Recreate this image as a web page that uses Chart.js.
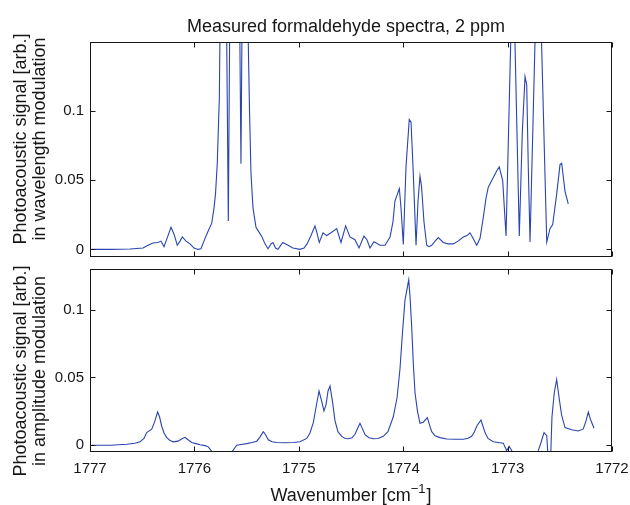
<!DOCTYPE html>
<html><head><meta charset="utf-8">
<script src="https://cdn.jsdelivr.net/npm/chart.js@4/dist/chart.umd.min.js"></script>
<style>
html,body{margin:0;padding:0;background:#fff;}
#wrap{position:relative;width:630px;height:505px;}
#wrap canvas{position:absolute;left:0;top:0;}
</style></head><body>
<div id="wrap"><canvas id="cTop" width="630" height="505"></canvas><canvas id="cBot" width="630" height="505"></canvas></div>
<script>
const chartTitle = 'Measured formaldehyde spectra, 2 ppm';
const xAxisTitle = ['Wavenumber [cm', '\u22121', ']'];
const topYTitle = ['Photoacoustic signal [arb.]', 'in wavelength modulation'];
const botYTitle = ['Photoacoustic signal [arb.]', 'in amplitude modulation'];
const wavenumberTicks = [1777, 1776, 1775, 1774, 1773, 1772];
const signalTicks = [0, 0.05, 0.1];

// wavelength modulation (top panel)
const wmWavenumber = [
  1776.984, 1776.808, 1776.617, 1776.492, 1776.444, 1776.397, 1776.349, 1776.320, 1776.291, 1776.262,
  1776.224, 1776.195, 1776.164, 1776.138, 1776.116, 1776.080, 1776.042, 1776.004, 1775.966, 1775.937,
  1775.898, 1775.870, 1775.834, 1775.812, 1775.798, 1775.781, 1775.761, 1775.736, 1775.702, 1775.675,
  1775.649, 1775.611, 1775.582, 1775.554, 1775.530, 1775.506, 1775.484, 1775.472, 1775.458, 1775.439,
  1775.410, 1775.381, 1775.352, 1775.324, 1775.295, 1775.266, 1775.247, 1775.223, 1775.199, 1775.154,
  1775.103, 1775.056, 1774.989, 1774.950, 1774.921, 1774.883, 1774.845, 1774.826, 1774.804, 1774.768,
  1774.733, 1774.692, 1774.637, 1774.596, 1774.551, 1774.510, 1774.462, 1774.423, 1774.376, 1774.347,
  1774.318, 1774.280, 1774.222, 1774.174, 1774.126, 1774.098, 1774.079, 1774.037, 1774.021, 1773.999,
  1773.973, 1773.942, 1773.925, 1773.906, 1773.877, 1773.858, 1773.839, 1773.825, 1773.801, 1773.775,
  1773.753, 1773.727, 1773.695, 1773.664, 1773.616, 1773.571, 1773.520, 1773.475, 1773.424, 1773.389,
  1773.360, 1773.331, 1773.296, 1773.264, 1773.233, 1773.207, 1773.185, 1773.137, 1773.102, 1773.080,
  1773.047, 1773.015, 1772.949, 1772.888, 1772.859, 1772.833, 1772.817, 1772.802, 1772.785, 1772.707,
  1772.625, 1772.594, 1772.568, 1772.530, 1772.498, 1772.482, 1772.450, 1772.419
];
const wmSignal = [
  0, 0, 0.0003, 0.001, 0.003, 0.0046, 0.005, 0.006, 0.002, 0.008,
  0.016, 0.011, 0.003, 0.006, 0.009, 0.006, 0.004, 0.001, 0, 0.0005,
  0.008, 0.013, 0.019, 0.03, 0.04, 0.062, 0.11, 0.3, 0.25, 0.0205,
  0.3, 0.35, 0.3, 0.062, 0.3, 0.26, 0.15, 0.1, 0.055, 0.03,
  0.016, 0.0125, 0.009, 0.004, 0.0005, 0.004, 0.005, 0.001, 0, 0.005,
  0.003, 0.001, 0, 0.001, 0.004, 0.01, 0.017, 0.012, 0.005, 0.012,
  0.01, 0.012, 0.015, 0.005, 0.017, 0.009, 0.007, 0.001, 0.0096, 0.007,
  0.001, 0.0055, 0.003, 0.003, 0.009, 0.02, 0.035, 0.044, 0.03, 0.0036,
  0.06, 0.094, 0.092, 0.06, 0.003, 0.035, 0.053, 0.046, 0.02, 0.003,
  0.002, 0.003, 0.006, 0.0085, 0.005, 0.004, 0.004, 0.006, 0.009, 0.01,
  0.012, 0.008, 0.003, 0.008, 0.023, 0.037, 0.045, 0.052, 0.057, 0.0597,
  0.0497, 0.0097, 0.216, 0.0097, 0.085, 0.125, 0.119, 0.06, 0.0053, 0.243,
  0.0053, 0.015, 0.018, 0.04, 0.0613, 0.0623, 0.042, 0.033
];

// amplitude modulation (bottom panel)
const amWavenumber = [
  1776.984, 1776.808, 1776.648, 1776.569, 1776.521, 1776.483, 1776.457, 1776.409, 1776.382, 1776.352,
  1776.334, 1776.313, 1776.291, 1776.265, 1776.234, 1776.202, 1776.157, 1776.119, 1776.090, 1776.061,
  1776.026, 1775.985, 1775.946, 1775.898, 1775.867, 1775.819, 1775.755, 1775.697, 1775.669, 1775.595,
  1775.554, 1775.499, 1775.448, 1775.403, 1775.372, 1775.340, 1775.324, 1775.292, 1775.257, 1775.212,
  1775.132, 1775.053, 1774.989, 1774.924, 1774.893, 1774.861, 1774.835, 1774.806, 1774.783, 1774.759,
  1774.739, 1774.720, 1774.701, 1774.677, 1774.653, 1774.625, 1774.589, 1774.557, 1774.526, 1774.490,
  1774.462, 1774.433, 1774.414, 1774.395, 1774.366, 1774.328, 1774.286, 1774.241, 1774.191, 1774.146,
  1774.095, 1774.059, 1774.031, 1774.007, 1773.983, 1773.947, 1773.935, 1773.919, 1773.903, 1773.887,
  1773.863, 1773.839, 1773.808, 1773.769, 1773.748, 1773.727, 1773.695, 1773.648, 1773.583, 1773.504,
  1773.424, 1773.379, 1773.344, 1773.317, 1773.296, 1773.255, 1773.236, 1773.216, 1773.188, 1773.137,
  1773.092, 1773.041, 1773.009, 1772.984, 1772.945, 1772.881, 1772.785, 1772.737, 1772.706, 1772.680,
  1772.651, 1772.625, 1772.610, 1772.589, 1772.575, 1772.553, 1772.530, 1772.505, 1772.482, 1772.450,
  1772.386, 1772.323, 1772.275, 1772.249, 1772.227, 1772.206, 1772.172
];
const amSignal = [
  0, 0, 0.0007, 0.0015, 0.0025, 0.005, 0.0093, 0.0118, 0.017, 0.0245,
  0.021, 0.014, 0.009, 0.0056, 0.0035, 0.0025, 0.003, 0.0048, 0.0058, 0.004,
  0.002, 0.0012, 0.0004, -0.0003, -0.0012, -0.006, -0.012, -0.014, -0.008, 0,
  0.0005, 0.0012, 0.002, 0.003, 0.006, 0.01, 0.0085, 0.004, 0.0025, 0.002,
  0.0018, 0.002, 0.0025, 0.005, 0.009, 0.0167, 0.028, 0.04, 0.033, 0.0253,
  0.03, 0.04, 0.0436, 0.032, 0.018, 0.01, 0.0065, 0.005, 0.0048, 0.0055,
  0.0081, 0.013, 0.0162, 0.013, 0.0078, 0.0055, 0.0048, 0.005, 0.0066, 0.01,
  0.021, 0.035, 0.056, 0.083, 0.107, 0.122, 0.11, 0.0877, 0.06, 0.0387,
  0.025, 0.0162, 0.017, 0.0204, 0.015, 0.01, 0.007, 0.0056, 0.0046, 0.0044,
  0.0044, 0.0052, 0.0066, 0.01, 0.014, 0.0186, 0.014, 0.0093, 0.005, 0.0025,
  0.002, 0.0015, -0.0039, -0.001, -0.006, -0.012, -0.014, -0.01, -0.004, 0.002,
  0.0093, 0.007, -0.012, -0.012, 0.021, 0.0387, 0.0485, 0.034, 0.022, 0.013,
  0.0114, 0.0105, 0.012, 0.018, 0.0245, 0.019, 0.0125
];

const FONT = "'Liberation Sans', Arial, Helvetica, sans-serif";
const INK = '#161616';
const LINE = '#2a44b0';

const framePlugin = {
  id: 'frame',
  afterDraw(chart, args, opts) {
    const {ctx, chartArea: a, scales: {x, y}} = chart;
    ctx.save();
    ctx.strokeStyle = INK;
    ctx.lineWidth = 1;
    const L = Math.round(a.left) + 0.5, R = Math.round(a.right) - 0.5;
    const T = Math.round(a.top) + 0.5, B = Math.round(a.bottom) - 0.5;
    ctx.strokeRect(L, T, R - L, B - T);
    const tl = 5;
    ctx.beginPath();
    x.ticks.forEach(t => {
      const px = Math.round(x.getPixelForValue(t.value)) + 0.5;
      ctx.moveTo(px, B); ctx.lineTo(px, B - tl);
      ctx.moveTo(px, T); ctx.lineTo(px, T + tl);
    });
    y.ticks.forEach(t => {
      const py = Math.round(y.getPixelForValue(t.value)) + 0.5;
      ctx.moveTo(L, py); ctx.lineTo(L + tl, py);
      ctx.moveTo(R, py); ctx.lineTo(R - tl, py);
    });
    ctx.stroke();
    ctx.fillStyle = INK;
    // chart title
    if (opts.title) {
      ctx.font = '18px ' + FONT;
      ctx.textAlign = 'center';
      ctx.textBaseline = 'alphabetic';
      ctx.fillText(opts.title, opts.titleX, opts.titleBase);
    }
    // y-axis title (two lines, rotated)
    ctx.font = '18px ' + FONT;
    ctx.textAlign = 'center';
    ctx.textBaseline = 'middle';
    opts.yTitle.forEach((line, i) => {
      ctx.save();
      ctx.translate(opts.yTitleX + i * opts.yTitleGap, opts.yTitleY);
      ctx.rotate(-Math.PI / 2);
      ctx.fillText(line, 0, 0);
      ctx.restore();
    });
    if (opts.xTitle) {
      const [main, sup, tail] = opts.xTitle;
      ctx.textAlign = 'left';
      ctx.textBaseline = 'alphabetic';
      ctx.font = '18px ' + FONT;
      const w1 = ctx.measureText(main).width;
      const w3 = ctx.measureText(tail).width;
      ctx.font = '13px ' + FONT;
      const w2 = ctx.measureText(sup).width;
      const cx = (a.left + a.right) / 2;
      const x0 = cx - (w1 + w2 + w3 + 1) / 2;
      const base = opts.xTitleBase;
      ctx.font = '18px ' + FONT;
      ctx.fillText(main, x0, base);
      ctx.font = '13px ' + FONT;
      ctx.fillText(sup, x0 + w1, base - 8);
      ctx.font = '18px ' + FONT;
      ctx.fillText(tail, x0 + w1 + w2 + 1, base);
    }
    ctx.restore();
  }
};

function makeChart(id, xs, ys, yMin, yMax, isTop) {
  const pts = xs.map((w, i) => ({x: w, y: ys[i]}));
  return new Chart(document.getElementById(id), {
    type: 'line',
    data: {datasets: [{data: pts, borderColor: LINE, borderWidth: 1.1, pointRadius: 0, tension: 0, fill: false}]},
    options: {
      responsive: false,
      animation: false,
      devicePixelRatio: 1,
      events: [],
      layout: {padding: {left: 0, right: 18, top: isTop ? 42 : 269, bottom: 0}},
      plugins: {
        legend: {display: false},
        tooltip: {enabled: false},
        title: {display: false},
        frame: {
          title: isTop ? chartTitle : null,
          titleX: 346,
          titleBase: 32,
          yTitle: isTop ? topYTitle : botYTitle,
          yTitleX: 21,
          yTitleGap: 19,
          yTitleY: isTop ? 139 : 371,
          xTitle: isTop ? null : xAxisTitle,
          xTitleBase: 501
        }
      },
      scales: {
        x: {
          type: 'linear',
          reverse: true,
          min: 1772,
          max: 1777,
          afterBuildTicks: s => { s.ticks = wavenumberTicks.map(v => ({value: v})); },
          ticks: {
            display: !isTop,
            color: INK,
            font: {family: FONT, size: 15},
            padding: 8,
            maxRotation: 0,
            autoSkip: false,
            callback: v => String(v)
          },
          grid: {display: false, drawTicks: false},
          border: {display: false},
          afterFit: s => { s.height = isTop ? 505 - 257 : 505 - 452; s.paddingLeft = 0; s.paddingRight = 0; }
        },
        y: {
          min: yMin,
          max: yMax,
          afterBuildTicks: s => { s.ticks = signalTicks.map(v => ({value: v})); },
          ticks: {
            color: INK,
            font: {family: FONT, size: 15},
            padding: 6,
            autoSkip: false,
            callback: v => String(v)
          },
          grid: {display: false, drawTicks: false},
          border: {display: false},
          afterFit: s => { s.width = 90; s.paddingTop = 0; s.paddingBottom = 0; }
        }
      }
    },
    plugins: [framePlugin]
  });
}

makeChart('cTop', wmWavenumber, wmSignal, -0.0055, 0.15, true);
makeChart('cBot', amWavenumber, amSignal, -0.005, 0.13, false);
</script>
</body></html>
